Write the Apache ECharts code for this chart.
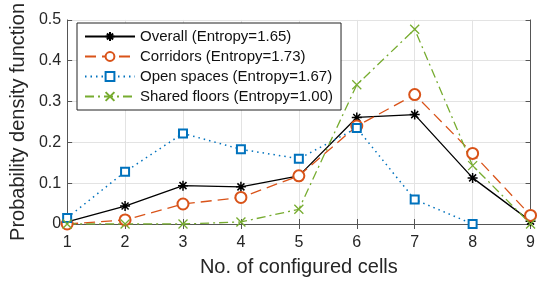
<!DOCTYPE html>
<html>
<head>
<meta charset="utf-8">
<script src="https://cdn.jsdelivr.net/npm/echarts@6/dist/echarts.min.js"></script>
<style>
  html, body { margin: 0; padding: 0; background: #fff; }
  #chart { width: 538px; height: 283px; }
</style>
</head>
<body>
<div id="chart"></div>
<script>
const cells = [1, 2, 3, 4, 5, 6, 7, 8, 9]
const overall = [0.005, 0.044, 0.094, 0.091, 0.118, 0.261, 0.268, 0.113, 0.007]
const corridors = [0.0, 0.01, 0.049, 0.065, 0.118, 0.24, 0.317, 0.173, 0.021]
const openSpaces = [0.015, 0.128, 0.222, 0.183, 0.16, 0.235, 0.06, 0.0, null]
const sharedFloors = [0.0, 0.0, 0.0, 0.005, 0.036, 0.341, 0.477, 0.143, 0.0]
const seriesNames = [
  'Overall (Entropy=1.65)',
  'Corridors (Entropy=1.73)',
  'Open spaces (Entropy=1.67)',
  'Shared floors (Entropy=1.00)',
]

const font = 'Liberation Sans, Arial, Helvetica, sans-serif'
const pairs = vals => cells.map((c, i) => [c, vals[i]])

// matlab-ish marker shapes drawn as strokes
const asterisk = 'path://M5,0L5,10M0,5L10,5M1.5,1.5L8.5,8.5M1.5,8.5L8.5,1.5'
const cross = 'path://M0,0L10,10M0,10L10,0'

const chart = echarts.init(document.getElementById('chart'), null, { renderer: 'canvas' })

const axisLine = { show: true, lineStyle: { color: '#555', width: 1 } }
const tick = { show: true, inside: true, length: 5, lineStyle: { color: '#555' } }

chart.setOption({
  backgroundColor: '#ffffff',
  animation: false,
  grid: { left: 65, right: 4, top: 14, bottom: 59 },
  legend: {
    left: 77, top: 23,
    orient: 'vertical',
    backgroundColor: '#fff',
    borderColor: '#222',
    borderWidth: 1,
    borderRadius: 0,
    padding: [6, 8, 6, 7],
    itemWidth: 50,
    itemHeight: 11,
    itemGap: 5,
    textStyle: { fontFamily: font, fontSize: 15, color: '#111' },
    data: seriesNames,
  },
  xAxis: [
    {
      type: 'value', min: 1, max: 9, interval: 1,
      name: 'No. of configured cells',
      nameLocation: 'middle', nameGap: 33,
      nameTextStyle: { fontFamily: font, fontSize: 20, color: '#262626' },
      axisLine, axisTick: tick,
      axisLabel: { fontFamily: font, fontSize: 16, color: '#262626', margin: 11 },
      splitLine: { show: true, lineStyle: { color: '#e3e3e3', width: 1 } },
    },
    {
      type: 'value', min: 1, max: 9, interval: 1, position: 'top',
      axisLine, axisTick: tick, axisLabel: { show: false }, splitLine: { show: false },
    },
  ],
  yAxis: [
    {
      type: 'value', min: 0, max: 0.5, interval: 0.1,
      name: 'Probability density function',
      nameLocation: 'middle', nameGap: 37,
      nameTextStyle: { fontFamily: font, fontSize: 20, color: '#262626' },
      axisLine, axisTick: tick,
      axisLabel: { fontFamily: font, fontSize: 16, color: '#262626', margin: 6 },
      splitLine: { show: true, lineStyle: { color: '#e3e3e3', width: 1 } },
    },
    {
      type: 'value', min: 0, max: 0.5, interval: 0.1, position: 'right',
      axisLine, axisTick: tick, axisLabel: { show: false }, splitLine: { show: false },
    },
  ],
  series: [
    {
      name: seriesNames[0], type: 'line', data: pairs(overall),
      symbol: asterisk, symbolSize: 10,
      lineStyle: { color: '#000', width: 1.3, type: 'solid' },
      itemStyle: { color: '#000', borderColor: '#000', borderWidth: 1.5 },
    },
    {
      name: seriesNames[1], type: 'line', data: pairs(corridors),
      symbol: 'emptyCircle', symbolSize: 11,
      lineStyle: { color: '#D95319', width: 1.3, type: [11, 6] },
      itemStyle: { color: '#D95319', borderColor: '#D95319', borderWidth: 1.3 },
    },
    {
      name: seriesNames[2], type: 'line', data: pairs(openSpaces),
      symbol: 'emptyRect', symbolSize: 8,
      lineStyle: { color: '#0072BD', width: 1.5, type: [1.5, 4] },
      itemStyle: { color: '#0072BD', borderColor: '#0072BD', borderWidth: 1.3 },
    },
    {
      name: seriesNames[3], type: 'line', data: pairs(sharedFloors),
      symbol: cross, symbolSize: 9,
      lineStyle: { color: '#77AC30', width: 1.3, type: [9, 4, 2, 4] },
      itemStyle: { color: '#77AC30', borderColor: '#77AC30', borderWidth: 1.3 },
    },
  ],
})
</script>
</body>
</html>
